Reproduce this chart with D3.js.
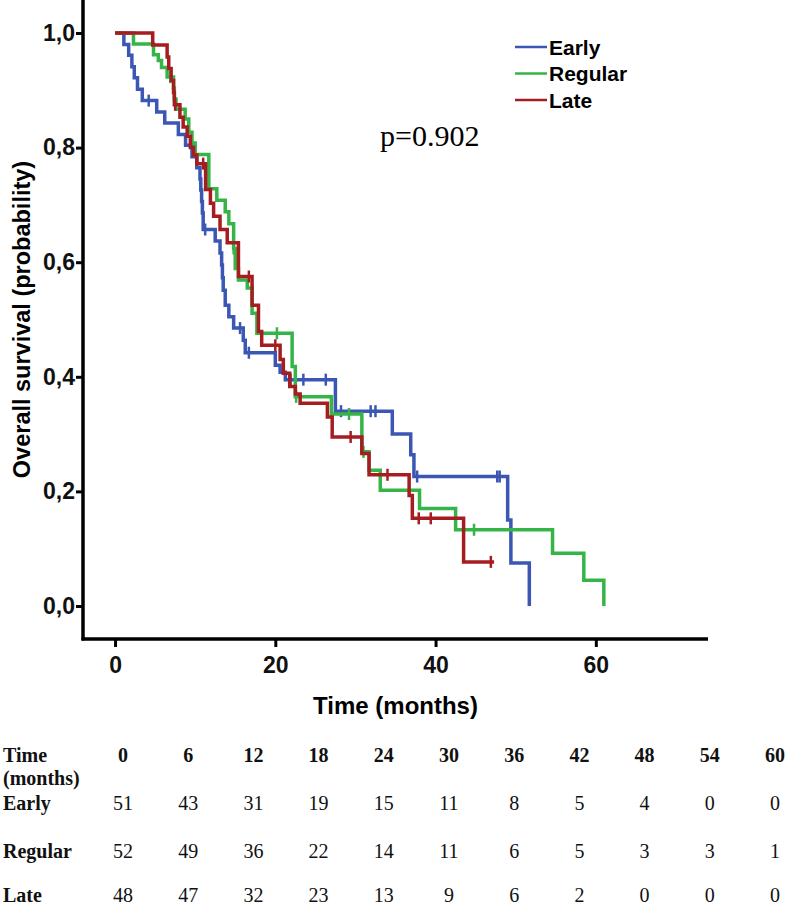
<!DOCTYPE html>
<html>
<head>
<meta charset="utf-8">
<script src="https://cdn.jsdelivr.net/npm/d3@7"></script>
<style>
  body { margin: 0; background: #fff; }
  svg { display: block; }
</style>
</head>
<body>
<div id="chart"></div>
<script>
// ---- data ----
const groups = ["Early", "Regular", "Late"];
const groupColors = ["#3b57b3", "#35b548", "#a51d21"];

// [time (months), survival after the event]
const earlySteps = [
  [1.1, 0.980], [1.7, 0.961], [2.1, 0.941], [2.4, 0.922], [2.8, 0.902], [3.4, 0.882],
  [5.2, 0.862], [6.2, 0.843], [7.9, 0.823], [8.8, 0.804], [9.6, 0.784], [10.2, 0.765],
  [10.6, 0.745], [10.7, 0.726], [10.8, 0.706], [10.9, 0.686], [11.0, 0.657],
  [12.5, 0.637], [13.1, 0.616], [13.3, 0.595], [13.4, 0.573], [13.5, 0.551],
  [13.75, 0.525], [14.2, 0.505], [14.8, 0.485], [16.0, 0.464], [16.25, 0.442],
  [20.0, 0.420], [20.6, 0.408], [21.25, 0.395], [27.5, 0.340], [34.6, 0.300],
  [36.9, 0.264], [37.3, 0.226], [49.0, 0.150], [49.4, 0.075], [51.7, 0.0]
];
const earlyCensor = [4.2, 11.25, 15.6, 16.7, 21.9, 23.5, 26.3, 28.2, 31.9, 32.5, 37.7, 47.7, 48.0];

const regularSteps = [
  [2.3, 0.981], [4.8, 0.962], [5.4, 0.952], [5.8, 0.940], [6.5, 0.923],
  [7.3, 0.904], [7.4, 0.885], [7.6, 0.867], [8.75, 0.850], [9.2, 0.827], [9.6, 0.808],
  [10.0, 0.788], [11.7, 0.728], [12.7, 0.708], [13.75, 0.688], [14.2, 0.667],
  [14.8, 0.624], [15.0, 0.589], [15.4, 0.569], [16.5, 0.555], [17.1, 0.511],
  [17.7, 0.476], [22.1, 0.418], [22.5, 0.365], [27.0, 0.335], [30.8, 0.269],
  [31.7, 0.237], [33.1, 0.202], [38.0, 0.170], [42.5, 0.133], [54.6, 0.092],
  [58.5, 0.045], [61.0, 0.0]
];
const regularCensor = [6.9, 14.8, 20.2, 22.6, 29.2, 31.0, 44.8];

const lateSteps = [
  [4.7, 0.979], [6.5, 0.958], [6.7, 0.938], [7.0, 0.917], [7.3, 0.896], [7.4, 0.875],
  [8.1, 0.853], [8.5, 0.836], [9.0, 0.820], [9.4, 0.800], [9.8, 0.787], [10.2, 0.772],
  [11.3, 0.727], [11.9, 0.703], [12.3, 0.680], [13.1, 0.657], [14.0, 0.634],
  [15.4, 0.575], [17.1, 0.525], [17.9, 0.479], [18.3, 0.455], [20.6, 0.430],
  [21.0, 0.406], [21.8, 0.383], [22.5, 0.370], [23.1, 0.354], [26.5, 0.330],
  [27.1, 0.295], [30.8, 0.266], [31.7, 0.229], [36.7, 0.193], [37.1, 0.153],
  [43.5, 0.077]
];
const lateCensor = [7.5, 11.0, 16.7, 20.0, 29.4, 34.0, 37.9, 39.4, 46.9];
const lateEnd = 47.3;

const xTicks = [0, 20, 40, 60];
const yTicks = [0, 0.2, 0.4, 0.6, 0.8, 1.0];
const pValue = "p=0.902";

// number at risk table
const riskTimes = [0, 6, 12, 18, 24, 30, 36, 42, 48, 54, 60];
const riskEarly = [51, 43, 31, 19, 15, 11, 8, 5, 4, 0, 0];
const riskRegular = [52, 49, 36, 22, 14, 11, 6, 5, 3, 3, 1];
const riskLate = [48, 47, 32, 23, 13, 9, 6, 2, 0, 0, 0];

// ---- drawing ----
const width = 787, height = 908;
const svg = d3.select("#chart").append("svg")
  .attr("width", width)
  .attr("height", height);

const x = d3.scaleLinear().domain([-4, 74]).range([83, 708]);
const y = d3.scaleLinear().domain([0, 1]).range([606, 33]);
const axisY = 639;

const sans = "'Liberation Sans', Arial, sans-serif";
const serif = "'Liberation Serif', 'Times New Roman', serif";

// axes
const yAxis = svg.append("g")
  .attr("transform", "translate(" + x(-4) + ",0)")
  .call(d3.axisLeft(y).tickValues(yTicks).tickSize(7).tickSizeOuter(0)
    .tickFormat(d => d.toFixed(1).replace(".", ",")));
yAxis.select(".domain").remove();
svg.append("line")
  .attr("x1", x(-4)).attr("x2", x(-4))
  .attr("y1", 0).attr("y2", axisY + 1.5)
  .attr("stroke", "#000").attr("stroke-width", 3.5);

const xAxis = svg.append("g")
  .attr("transform", "translate(0," + axisY + ")")
  .call(d3.axisBottom(x).tickValues(xTicks).tickSize(8).tickSizeOuter(0));
xAxis.select(".domain").remove();
svg.append("line")
  .attr("x1", x(-4) - 1.5).attr("x2", x(74))
  .attr("y1", axisY).attr("y2", axisY)
  .attr("stroke", "#000").attr("stroke-width", 3.5);

svg.selectAll(".tick line").attr("stroke", "#000").attr("stroke-width", 3);
svg.selectAll(".tick text")
  .attr("font-family", sans)
  .attr("font-weight", "bold")
  .attr("font-size", 23)
  .attr("fill", "#111");
yAxis.selectAll(".tick text").attr("x", -8);
xAxis.selectAll(".tick text").attr("y", 18);

svg.append("text")
  .attr("transform", "translate(30," + (axisY / 2) + ") rotate(-90)")
  .attr("text-anchor", "middle")
  .attr("font-family", sans)
  .attr("font-weight", "bold")
  .attr("font-size", 23.5)
  .text("Overall survival (probability)");

svg.append("text")
  .attr("x", (x(-4) + x(74)) / 2)
  .attr("y", 714)
  .attr("text-anchor", "middle")
  .attr("font-family", sans)
  .attr("font-weight", "bold")
  .attr("font-size", 24)
  .text("Time (months)");

// curves
const series = [
  { steps: earlySteps, censor: earlyCensor, end: null },
  { steps: regularSteps, censor: regularCensor, end: null },
  { steps: lateSteps, censor: lateCensor, end: lateEnd }
];

const line = d3.line()
  .x(d => x(d[0]))
  .y(d => y(d[1]))
  .curve(d3.curveStepAfter);

function survAt(steps, t) {
  let s = 1;
  steps.forEach(function (d) { if (d[0] <= t) s = d[1]; });
  return s;
}

series.forEach(function (s, i) {
  const pts = [[0, 1]].concat(s.steps);
  if (s.end !== null) pts.push([s.end, s.steps[s.steps.length - 1][1]]);
  const g = svg.append("g");
  g.append("path")
    .attr("d", line(pts))
    .attr("fill", "none")
    .attr("stroke", groupColors[i])
    .attr("stroke-width", 3.5)
    .attr("stroke-linejoin", "miter");
  g.selectAll(".censor")
    .data(s.censor)
    .enter().append("line")
    .attr("class", "censor")
    .attr("x1", d => x(d)).attr("x2", d => x(d))
    .attr("y1", d => y(survAt(s.steps, d)) - 6)
    .attr("y2", d => y(survAt(s.steps, d)) + 6)
    .attr("stroke", groupColors[i])
    .attr("stroke-width", 2.5);
});

// legend
const legend = svg.append("g");
groups.forEach(function (name, i) {
  const ly = 47 + i * 26.5;
  legend.append("line")
    .attr("x1", 515).attr("x2", 547)
    .attr("y1", ly).attr("y2", ly)
    .attr("stroke", groupColors[i])
    .attr("stroke-width", 2.5);
  legend.append("text")
    .attr("x", 549).attr("y", ly + 7.5)
    .attr("font-family", sans)
    .attr("font-weight", "bold")
    .attr("font-size", 21)
    .text(name);
});

svg.append("text")
  .attr("x", 380).attr("y", 146)
  .attr("font-family", serif)
  .attr("font-size", 30)
  .text(pValue);

// risk table
const colX = d3.scaleLinear().domain([0, 60]).range([123, 775]);
const table = svg.append("g")
  .attr("font-family", serif)
  .attr("font-size", 20)
  .attr("fill", "#111");

table.append("text").attr("x", 3).attr("y", 762).attr("font-weight", "bold").text("Time");
table.append("text").attr("x", 3).attr("y", 785).attr("font-weight", "bold").text("(months)");
table.selectAll(".hdr").data(riskTimes).enter().append("text")
  .attr("x", d => colX(d)).attr("y", 762)
  .attr("text-anchor", "middle").attr("font-weight", "bold")
  .text(d => d);

const rows = [
  { name: "Early", vals: riskEarly, y: 810 },
  { name: "Regular", vals: riskRegular, y: 858 },
  { name: "Late", vals: riskLate, y: 902 }
];
rows.forEach(function (r) {
  table.append("text").attr("x", 3).attr("y", r.y).attr("font-weight", "bold").text(r.name);
  table.selectAll(".v" + r.name).data(r.vals).enter().append("text")
    .attr("x", (d, i) => colX(riskTimes[i])).attr("y", r.y)
    .attr("text-anchor", "middle")
    .text(d => d);
});
</script>
</body>
</html>
